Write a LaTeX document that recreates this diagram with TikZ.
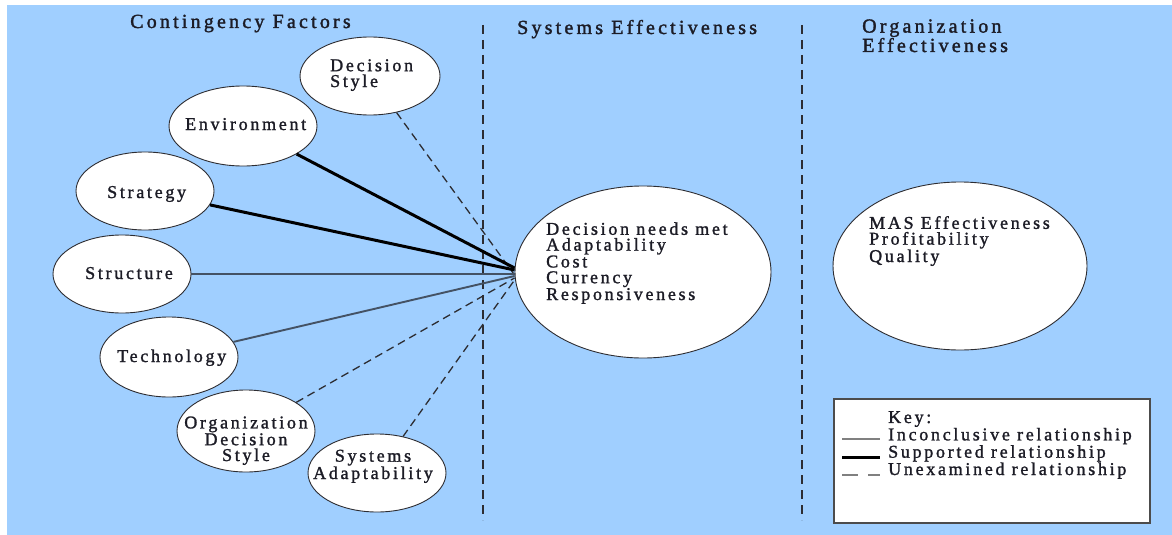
\documentclass[tikz,border=0pt]{standalone}
\usepackage{fontspec}
\setmainfont{Liberation Serif}[LetterSpace=15, FakeBold=1.4]
\newfontfamily\headfont{Liberation Serif}[LetterSpace=16, FakeBold=1.6]
\usetikzlibrary{shapes.geometric}
\definecolor{panel}{RGB}{160,207,255}
\definecolor{ink}{RGB}{28,28,38}
\definecolor{edge}{RGB}{45,45,50}
\definecolor{thinline}{RGB}{68,82,100}
\begin{document}
\begin{tikzpicture}[x=1pt,y=-1pt,
  factor/.style={ellipse, draw=edge, line width=0.9pt, fill=white, inner sep=0pt,
    minimum width=138pt, minimum height=78pt},
  lbl/.style={inner sep=0pt, text=ink, font=\fontsize{18}{15.8}\selectfont,
    anchor=base west, align=left},
  ttl/.style={inner sep=0pt, text=ink, font=\headfont\fontsize{20}{18}\selectfont,
    anchor=base west, align=left},
  inconclusive/.style={draw=thinline, line width=1.9pt},
  supported/.style={draw=black, line width=3pt},
  unexamined/.style={draw=edge, line width=1.3pt, dash pattern=on 8pt off 5pt},
  divider/.style={draw=edge, line width=1.6pt, dash pattern=on 9pt off 6pt}]

\useasboundingbox (0,0) rectangle (1172,535);
\fill[white] (0,0) rectangle (1172,535);
\fill[panel] (7,5) rectangle (1172,535);

% column titles
\node[ttl] (tcf) at (130,28) {Contingency Factors};
\node[ttl] (tse) at (517,34) {Systems Effectiveness};
\node[ttl] (toe) at (862,52) {Organization\\Effectiveness};

% column dividers
\draw[divider] (483,25) -- (483,520);
\draw[divider] (802,25) -- (802,520);

% contingency factors
\node[factor, minimum width=140pt] (ds) at (370,76) {};
\node[factor, minimum width=148pt, minimum height=80pt] (env) at (243,126) {};
\node[factor] (strat) at (145,191) {};
\node[factor] (struct) at (122,274) {};
\node[factor, minimum height=80pt] (tech) at (169,357) {};
\node[factor, minimum height=82pt] (org) at (246,431) {};
\node[factor] (sysad) at (377,473) {};

% effectiveness ellipses
\node[factor, minimum width=256pt, minimum height=172pt] (sys) at (643,272) {};
\node[factor, minimum width=254pt, minimum height=168pt] (mas) at (960,266) {};

% relationships
\draw[unexamined] (ds) -- ([yshift=-3pt]sys.west);
\draw[supported] (env) -- ([yshift=4pt]sys.west);
\draw[supported] (strat) -- ([yshift=2pt]sys.west);
\draw[inconclusive] (struct) -- (struct -| sys.west);
\draw[inconclusive] (tech) -- ([yshift=-4pt]sys.west);
\draw[unexamined] (org) -- ([yshift=-6pt]sys.west);
\draw[unexamined] (sysad) -- ([yshift=-8pt]sys.west);

% labels
\node[lbl] (dsl) at (330,87) {Decision\\Style};
\node[lbl] (envl) at (185,130) {Environment};
\node[lbl] (stratl) at (107,198) {Strategy};
\node[lbl] (structl) at (85,279) {Structure};
\node[lbl] (techl) at (117,362) {Technology};
\node[lbl, align=center, anchor=base] (orgl) at (246,461) {Organization\\Decision\\Style};
\node[lbl, align=center, anchor=base] (sysadl) at (373,479) {Systems\\Adaptability};
\node[lbl] (sysl) at (546,300) {Decision needs met\\Adaptability\\Cost\\Currency\\Responsiveness};
\node[lbl] (masl) at (869,262) {MAS Effectiveness\\Profitability\\Quality};

% key
\node[draw=gray!60!black, line width=1.8pt, fill=white, inner sep=0pt,
  minimum width=316pt, minimum height=124pt, anchor=north west] (key) at (833,398) {};
\node[lbl] (keyl) at (888,475) {Key:\\Inconclusive relationship\\Supported relationship\\Unexamined relationship};
\draw[draw=gray, line width=1.2pt] (842,439) -- (880,439);
\draw[supported] (842,457) -- (880,457);
\draw[draw=gray, line width=1.2pt] (842,475) -- (858,475) (868,475) -- (880,475);
\end{tikzpicture}
\end{document}
